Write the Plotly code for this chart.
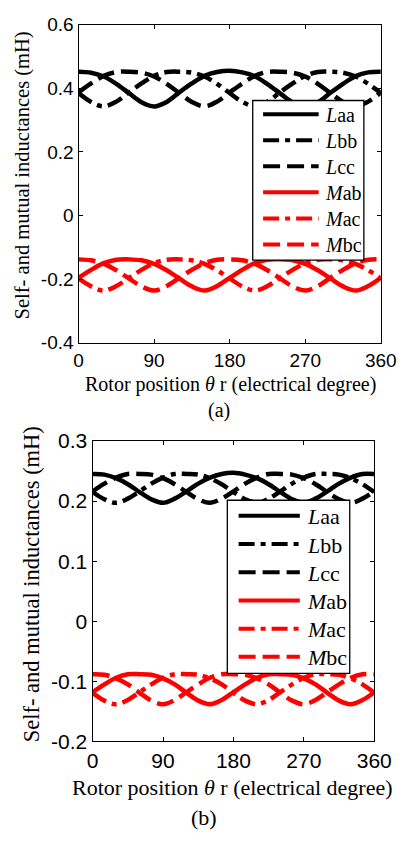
import plotly.graph_objects as go

W, H = 412, 841

theta = [0, 15, 30, 45, 60, 75, 90, 105, 120, 135, 150, 165, 180,
         195, 210, 225, 240, 255, 270, 285, 300, 315, 330, 345, 360]

# ---------------- (a) values (mH) ----------------
a_Laa = [0.452, 0.449, 0.437, 0.414, 0.385, 0.356, 0.343, 0.357, 0.387, 0.415, 0.439, 0.451, 0.455,
         0.450, 0.438, 0.413, 0.384, 0.355, 0.342, 0.356, 0.386, 0.414, 0.438, 0.450, 0.452]
a_Lbb = [0.385, 0.357, 0.343, 0.358, 0.387, 0.415, 0.439, 0.451, 0.452, 0.449, 0.437, 0.414, 0.385,
         0.357, 0.343, 0.358, 0.387, 0.415, 0.439, 0.451, 0.452, 0.449, 0.437, 0.414, 0.385]
a_Lcc = [0.387, 0.415, 0.439, 0.451, 0.452, 0.449, 0.437, 0.414, 0.385, 0.357, 0.343, 0.358, 0.387,
         0.415, 0.439, 0.451, 0.452, 0.449, 0.437, 0.414, 0.385, 0.357, 0.343, 0.358, 0.387]
a_Mab = [-0.196, -0.171, -0.150, -0.139, -0.138, -0.141, -0.152, -0.172, -0.198, -0.223, -0.236, -0.222, -0.196,
         -0.171, -0.150, -0.139, -0.138, -0.141, -0.152, -0.172, -0.198, -0.223, -0.236, -0.222, -0.196]
a_Mac = [-0.198, -0.223, -0.236, -0.222, -0.196, -0.171, -0.150, -0.139, -0.138, -0.141, -0.152, -0.172, -0.198,
         -0.223, -0.236, -0.222, -0.196, -0.171, -0.150, -0.139, -0.138, -0.141, -0.152, -0.172, -0.198]
a_Mbc = [-0.138, -0.141, -0.152, -0.172, -0.198, -0.223, -0.236, -0.222, -0.196, -0.171, -0.150, -0.139, -0.138,
         -0.141, -0.152, -0.172, -0.198, -0.223, -0.236, -0.222, -0.196, -0.171, -0.150, -0.139, -0.138]

# ---------------- (b) values (mH) ----------------
b_Laa = [0.245, 0.244, 0.238, 0.228, 0.215, 0.203, 0.197, 0.204, 0.216, 0.229, 0.239, 0.245, 0.247,
         0.244, 0.238, 0.228, 0.215, 0.203, 0.197, 0.204, 0.216, 0.229, 0.239, 0.245, 0.245]
b_Lbb = [0.215, 0.203, 0.197, 0.204, 0.216, 0.229, 0.239, 0.245, 0.245, 0.244, 0.238, 0.228, 0.215,
         0.203, 0.197, 0.204, 0.216, 0.229, 0.239, 0.245, 0.245, 0.244, 0.238, 0.228, 0.215]
b_Lcc = [0.216, 0.229, 0.239, 0.245, 0.245, 0.244, 0.238, 0.228, 0.215, 0.203, 0.197, 0.204, 0.216,
         0.229, 0.239, 0.245, 0.245, 0.244, 0.238, 0.228, 0.215, 0.203, 0.197, 0.204, 0.216]
b_Mab = [-0.118, -0.105, -0.094, -0.088, -0.088, -0.089, -0.095, -0.105, -0.119, -0.132, -0.138, -0.131, -0.118,
         -0.105, -0.094, -0.088, -0.088, -0.089, -0.095, -0.105, -0.119, -0.132, -0.138, -0.131, -0.118]
b_Mac = [-0.119, -0.132, -0.138, -0.131, -0.118, -0.105, -0.094, -0.088, -0.088, -0.089, -0.095, -0.105, -0.119,
         -0.132, -0.138, -0.131, -0.118, -0.105, -0.094, -0.088, -0.088, -0.089, -0.095, -0.105, -0.119]
b_Mbc = [-0.088, -0.089, -0.095, -0.105, -0.119, -0.132, -0.138, -0.131, -0.118, -0.105, -0.094, -0.088, -0.088,
         -0.089, -0.095, -0.105, -0.119, -0.132, -0.138, -0.131, -0.118, -0.105, -0.094, -0.088, -0.088]

x_ticks = [0, 90, 180, 270, 360]
a_yticks = [0.6, 0.4, 0.2, 0, -0.2, -0.4]
a_yticktext = ["0.6", "0.4", "0.2", "0", "-0.2", "-0.4"]
b_yticks = [0.3, 0.2, 0.1, 0, -0.1, -0.2]
b_yticktext = ["0.3", "0.2", "0.1", "0", "-0.1", "-0.2"]
legend_labels = ["<i>L</i>aa", "<i>L</i>bb", "<i>L</i>cc", "<i>M</i>ab", "<i>M</i>ac", "<i>M</i>bc"]

BLACK, RED = "#000000", "#ff0000"
DASHDOT = "16px,6px,5px,6px"
DASH = "17px,7px"
styles = [(BLACK, "solid"), (BLACK, DASHDOT), (BLACK, DASH),
          (RED, "solid"), (RED, DASHDOT), (RED, DASH)]

SERIF = "Times New Roman, Liberation Serif, serif"
SANS = "Arial, Liberation Sans, sans-serif"


def px(x):
    return x / W


def py(y):
    return 1 - y / H


fig = go.Figure()

series_a = [a_Laa, a_Lbb, a_Lcc, a_Mab, a_Mac, a_Mbc]
series_b = [b_Laa, b_Lbb, b_Lcc, b_Mab, b_Mac, b_Mbc]

for vals, (c, d), name in zip(series_a, styles, legend_labels):
    fig.add_trace(go.Scatter(x=theta, y=vals, mode="lines", name=name, showlegend=False,
                             line=dict(color=c, dash=d, width=4.5, shape="spline", smoothing=1),
                             xaxis="x", yaxis="y"))
for vals, (c, d), name in zip(series_b, styles, legend_labels):
    fig.add_trace(go.Scatter(x=theta, y=vals, mode="lines", name=name, showlegend=False,
                             line=dict(color=c, dash=d, width=4.5, shape="spline", smoothing=1),
                             xaxis="x2", yaxis="y2"))

axis_common = dict(showline=True, linecolor="black", linewidth=1.3, mirror="ticks",
                   ticks="inside", ticklen=4, tickwidth=1, tickcolor="black",
                   showgrid=False, zeroline=False)

fig.update_layout(
    width=W, height=H,
    margin=dict(l=0, r=0, t=0, b=0),
    paper_bgcolor="white", plot_bgcolor="white",
    showlegend=False,
    xaxis=dict(domain=[px(77), px(398)], range=[0, 360], tickvals=x_ticks,
               tickfont=dict(family=SANS, size=19, color="black"), anchor="y", **axis_common),
    yaxis=dict(domain=[py(340), py(13)], range=[-0.4, 0.6], tickvals=a_yticks, ticktext=a_yticktext,
               tickfont=dict(family=SANS, size=19, color="black"), anchor="x", **axis_common),
    xaxis2=dict(domain=[px(92), px(391)], range=[0, 360], tickvals=x_ticks,
                tickfont=dict(family=SANS, size=21, color="black"), anchor="y2", **axis_common),
    yaxis2=dict(domain=[py(750), py(441)], range=[-0.2, 0.3], tickvals=b_yticks, ticktext=b_yticktext,
                tickfont=dict(family=SANS, size=21, color="black"), anchor="x2", **axis_common),
)

annotations = []
shapes = []


def text(x, y, s, size, angle=0, xanchor="center"):
    annotations.append(dict(x=px(x), y=py(y), xref="paper", yref="paper", text=s, showarrow=False,
                            textangle=angle, xanchor=xanchor, yanchor="middle",
                            font=dict(family=SERIF, size=size, color="black")))


# axis titles and captions
text(17, 168, "Self- and mutual inductances (mH)", 20.5, angle=-90)
text(238, 383, "Rotor position <i>θ</i> r (electrical degree)", 20)
text(226, 410, "(a)", 20)
text(28, 588, "Self- and mutual inductances (mH)", 22.5, angle=-90)
text(241, 797, "Rotor position <i>θ</i> r (electrical degree)", 22)
text(210, 828, "(b)", 22)


def legend(x0, x1, y0, y1, row0, drow, lx0, lx1, tx, size):
    shapes.append(dict(type="rect", xref="paper", yref="paper", x0=px(x0), x1=px(x1),
                       y0=py(y1), y1=py(y0), fillcolor="white",
                       line=dict(color="black", width=1.3), layer="above"))
    for k, ((c, d), lab) in enumerate(zip(styles, legend_labels)):
        yy = row0 + k * drow
        shapes.append(dict(type="line", xref="paper", yref="paper", x0=px(lx0), x1=px(lx1),
                           y0=py(yy), y1=py(yy), line=dict(color=c, width=4, dash=d), layer="above"))
        text(tx, yy + 1, lab, size, xanchor="left")


legend(262, 380, 91, 255, 105, 26.8, 273, 332, 337, 20)
legend(235, 365, 502, 680, 518, 29, 247, 312, 317, 22)

fig.update_layout(annotations=annotations, shapes=shapes)
fig.write_html("out.html")
